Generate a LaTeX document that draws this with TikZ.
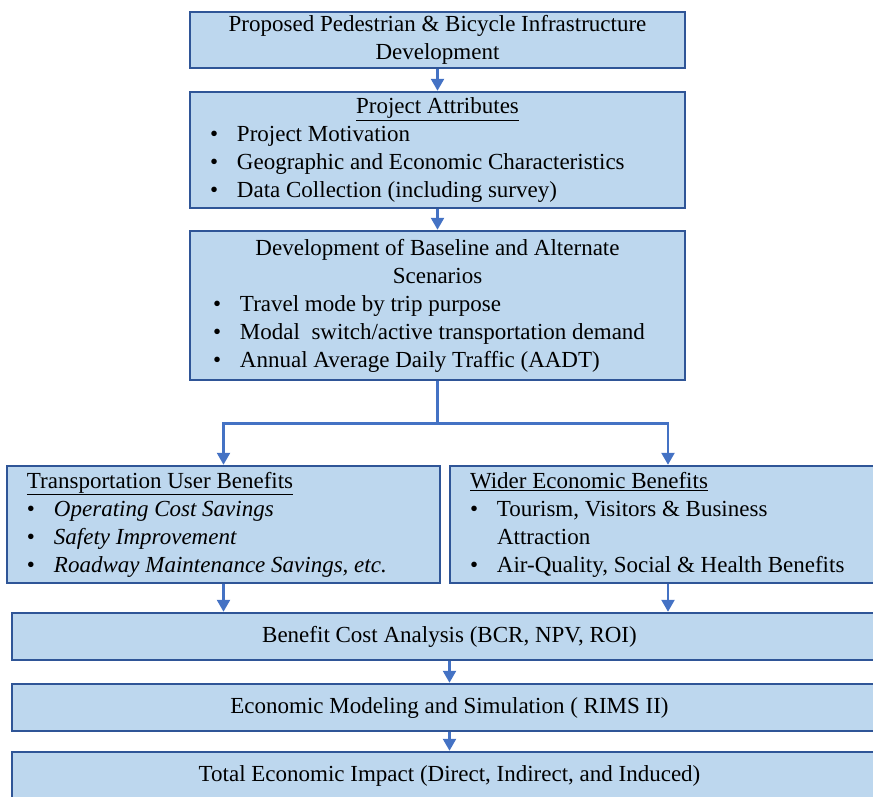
\documentclass[tikz,border=0pt]{standalone}
\usepackage{fontspec}
\setmainfont{Liberation Serif}
\usetikzlibrary{arrows.meta}
\definecolor{boxfill}{RGB}{189,215,238}
\definecolor{boxline}{RGB}{47,85,151}
\definecolor{flowblue}{RGB}{68,114,196}
\newcommand{\bitem}[1]{\makebox[27pt][l]{\textbullet}#1}
\newcommand{\brow}[2]{\makebox[#1][l]{\bitem{#2}}}
\newcommand{\lrow}[2]{\makebox[#1][l]{#2}}

\begin{document}
\begin{tikzpicture}[x=1pt, y=-1pt,
	box/.style={draw=boxline, fill=boxfill, line width=2.5pt, inner sep=0pt, align=center, font=\fontsize{23}{28}\selectfont},
	flowline/.style={draw=flowblue, line width=2.5pt},
	flow/.style={flowline, -{Triangle[width=13pt,length=12pt]}}]
	\useasboundingbox (0,0) rectangle (873,796);
	\clip (0,0) rectangle (873,796);

	\node [box, minimum width=495pt, minimum height=56pt] (infra) at (437.5,40) {Proposed Pedestrian \& Bicycle Infrastructure\\Development};
	\node [box, minimum width=495pt, minimum height=116pt] (attr) at (437.5,150) {\underline{Project Attributes}\\
		\brow{455pt}{Project Motivation}\\
		\brow{455pt}{Geographic and Economic Characteristics}\\
		\brow{455pt}{Data Collection (including survey)}};
	\node [box, minimum width=495pt, minimum height=149pt] (scen) at (437.5,305.5) {Development of Baseline and Alternate\\Scenarios\\
		\brow{449pt}{Travel mode by trip purpose}\\
		\brow{449pt}{Modal\ \ switch/active transportation demand}\\
		\brow{449pt}{Annual Average Daily Traffic (AADT)}};

	\node [box, minimum width=433pt, minimum height=117pt] (user) at (223.5,524.5) {\lrow{393pt}{\underline{Transportation User Benefits}}\\
		\brow{393pt}{\textit{Operating Cost Savings}}\\
		\brow{393pt}{\textit{Safety Improvement}}\\
		\brow{393pt}{\textit{Roadway Maintenance Savings, etc.}}};
	\node [box, minimum width=436pt, minimum height=117pt] (wider) at (668,524.5) {\lrow{396pt}{\underline{Wider Economic Benefits}}\\
		\brow{396pt}{Tourism, Visitors \& Business}\\
		\lrow{396pt}{\hspace*{27pt}Attraction}\\
		\brow{396pt}{Air-Quality, Social \& Health Benefits}};

	\node [box, minimum width=875pt, minimum height=47pt] (bca) at (449.5,636.5) {Benefit Cost Analysis (BCR, NPV, ROI)};
	\node [box, minimum width=875pt, minimum height=47pt] (model) at (449.5,707.5) {Economic Modeling and Simulation ( RIMS II)};
	\node [box, minimum width=875pt, minimum height=47pt] (impact) at (449.5,775.5) {Total Economic Impact (Direct, Indirect, and Induced)};

	\draw [flow] (infra) -- (attr);
	\draw [flow] (attr) -- (scen);
	\draw [flowline] (scen.south) -- ++(0,42) coordinate (split);
	\draw [flow] (split) -| (user.north);
	\draw [flow] (split) -| (wider.north);
	\draw [flow] (user.south) -- (user.south |- bca.north);
	\draw [flow] (wider.south) -- (wider.south |- bca.north);
	\draw [flow] (bca) -- (model);
	\draw [flow] (model) -- (impact);
\end{tikzpicture}
\end{document}
